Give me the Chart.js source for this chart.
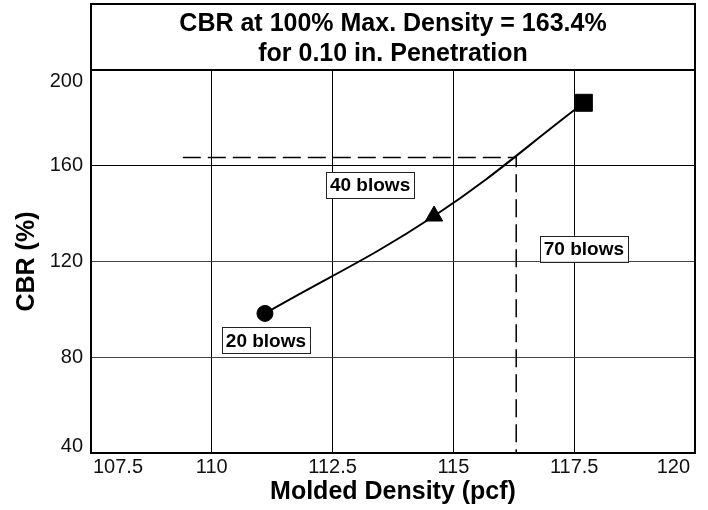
<!DOCTYPE html>
<html><head><meta charset="utf-8">
<script src="https://cdn.jsdelivr.net/npm/chart.js@4.4.1/dist/chart.umd.min.js"></script>
<style>html,body{margin:0;padding:0;background:#fff;}#wrap{width:708px;height:510px;}</style>
</head><body><div id="wrap"><canvas id="c" width="708" height="510"></canvas></div>
<script>
const titleLines = ['CBR at 100% Max. Density = 163.4%', 'for 0.10 in. Penetration'];
const xAxisTitle = 'Molded Density (pcf)';
const yAxisTitle = 'CBR (%)';
const blowLabels = ['20 blows', '40 blows', '70 blows'];
const moldedDensity = [111.1, 114.6, 117.7];
const cbrValues = [98.3, 139.0, 186.3];
const maxDensity = 116.3;
const cbrAtMax = 163.4;
const refStartDensity = 109.4;
const xTickValues = [107.5, 110, 112.5, 115, 117.5, 120];
const yTickValues = [40, 80, 120, 160, 200];

const FONT = '"Liberation Sans", Arial, Helvetica, sans-serif';
const xMin = xTickValues[0], xMax = xTickValues[xTickValues.length - 1];
const yMin = yTickValues[0], yMax = yTickValues[yTickValues.length - 1];

const curvePoints = moldedDensity.map((d, i) => ({x: d, y: cbrValues[i]}));
const refPoints = [
  {x: refStartDensity, y: cbrAtMax},
  {x: maxDensity, y: cbrAtMax},
  {x: maxDensity, y: yMin}
];

// keep the end tick labels inside the plot frame, as in the reference
const edgeLabelPlugin = {
  id: 'edgeLabelPlugin',
  beforeDraw(chart, args, opts) {
    const y = chart.scales.y.getLabelItems();
    if (y.length) {
      y[0].options.translation[1] -= opts.yBottom;
      y[y.length - 1].options.translation[1] += opts.yTop;
    }
    const x = chart.scales.x.getLabelItems();
    if (x.length) {
      x[0].options.translation[0] += opts.xLeft;
      x[x.length - 1].options.translation[0] -= opts.xRight;
    }
  }
};

const framePlugin = {
  id: 'framePlugin',
  afterDraw(chart, args, opts) {
    const {ctx, chartArea: a} = chart;
    ctx.save();
    ctx.strokeStyle = '#000';
    ctx.lineWidth = 2;
    ctx.strokeRect(a.left, opts.titleTop, a.right - a.left, a.top - opts.titleTop);
    ctx.strokeRect(a.left, a.top, a.right - a.left, a.bottom - a.top);
    ctx.fillStyle = '#000';
    ctx.font = 'bold 25px ' + FONT;
    ctx.textAlign = 'center';
    ctx.textBaseline = 'middle';
    const cx = (a.left + a.right) / 2;
    titleLines.forEach((t, i) => ctx.fillText(t, cx, opts.lineY[i]));
    ctx.restore();
  }
};

const labelPlugin = {
  id: 'labelPlugin',
  afterDatasetsDraw(chart, args, opts) {
    const {ctx} = chart;
    const meta = chart.getDatasetMeta(1);
    ctx.save();
    ctx.font = 'bold 19px ' + FONT;
    ctx.textAlign = 'center';
    ctx.textBaseline = 'middle';
    blowLabels.forEach((t, i) => {
      const el = meta.data[i];
      const cx = el.x + opts.offsets[i][0];
      const cy = el.y + opts.offsets[i][1];
      const w = ctx.measureText(t).width + 8;
      const h = 26;
      ctx.fillStyle = '#fff';
      ctx.fillRect(cx - w / 2, cy - h / 2, w, h);
      ctx.strokeStyle = '#222';
      ctx.lineWidth = 1;
      ctx.strokeRect(Math.round(cx - w / 2) + 0.5, Math.round(cy - h / 2) + 0.5, Math.round(w), h);
      ctx.fillStyle = '#000';
      ctx.fillText(t, cx, cy + 1);
    });
    ctx.restore();
  }
};

new Chart(document.getElementById('c'), {
  type: 'scatter',
  data: {
    datasets: [
      {
        data: refPoints,
        showLine: true,
        borderColor: '#000',
        borderWidth: 1.5,
        borderDash: [18, 7],
        pointRadius: 0,
        tension: 0,
        order: 2
      },
      {
        data: curvePoints,
        showLine: true,
        borderColor: '#000',
        borderWidth: 2,
        tension: 0.4,
        pointStyle: ['circle', 'triangle', 'rect'],
        pointRadius: [8, 10, 12],
        pointBackgroundColor: '#000',
        pointBorderColor: '#000',
        pointBorderWidth: 1,
        order: 1
      }
    ]
  },
  options: {
    responsive: false,
    animation: false,
    devicePixelRatio: 1,
    layout: {padding: {top: 70, right: 11, left: 0, bottom: 0}},
    plugins: {
      legend: {display: false},
      tooltip: {enabled: false},
      edgeLabelPlugin: {yTop: 11, yBottom: 7, xLeft: 2, xRight: 5},
      framePlugin: {titleTop: 4, lineY: [24, 54]},
      labelPlugin: {offsets: [[1, 27], [-64, -31], [0, 146]]}
    },
    scales: {
      x: {
        type: 'linear',
        min: xMin, max: xMax,
        afterBuildTicks: s => { s.ticks = xTickValues.map(v => ({value: v})); },
        afterFit: s => { s.height = 57; },
        ticks: {
          font: {family: FONT, size: 20},
          color: '#111',
          padding: 2,
          align: 'inner',
          maxRotation: 0,
          autoSkip: false,
          callback: v => String(v)
        },
        grid: {color: '#000', lineWidth: 1, drawTicks: false},
        border: {display: false},
        title: {
          display: true, text: xAxisTitle, color: '#000',
          font: {family: FONT, size: 25, weight: 'bold'},
          padding: {top: 0, bottom: 3}
        }
      },
      y: {
        type: 'linear',
        min: yMin, max: yMax,
        afterBuildTicks: s => { s.ticks = yTickValues.map(v => ({value: v})); },
        afterFit: s => { s.width = 91; },
        ticks: {
          font: {family: FONT, size: 20},
          color: '#111',
          padding: 8,
          callback: v => String(v)
        },
        grid: {
          color: c => (c.tick && c.tick.value === 160) ? '#000' : '#444',
          lineWidth: 1, drawTicks: false
        },
        border: {display: false},
        title: {
          display: true, text: yAxisTitle, color: '#000',
          font: {family: FONT, size: 25, weight: 'bold'},
          padding: {top: 12, bottom: 0}
        }
      }
    }
  },
  plugins: [edgeLabelPlugin, framePlugin, labelPlugin]
});
</script>
</body></html>
